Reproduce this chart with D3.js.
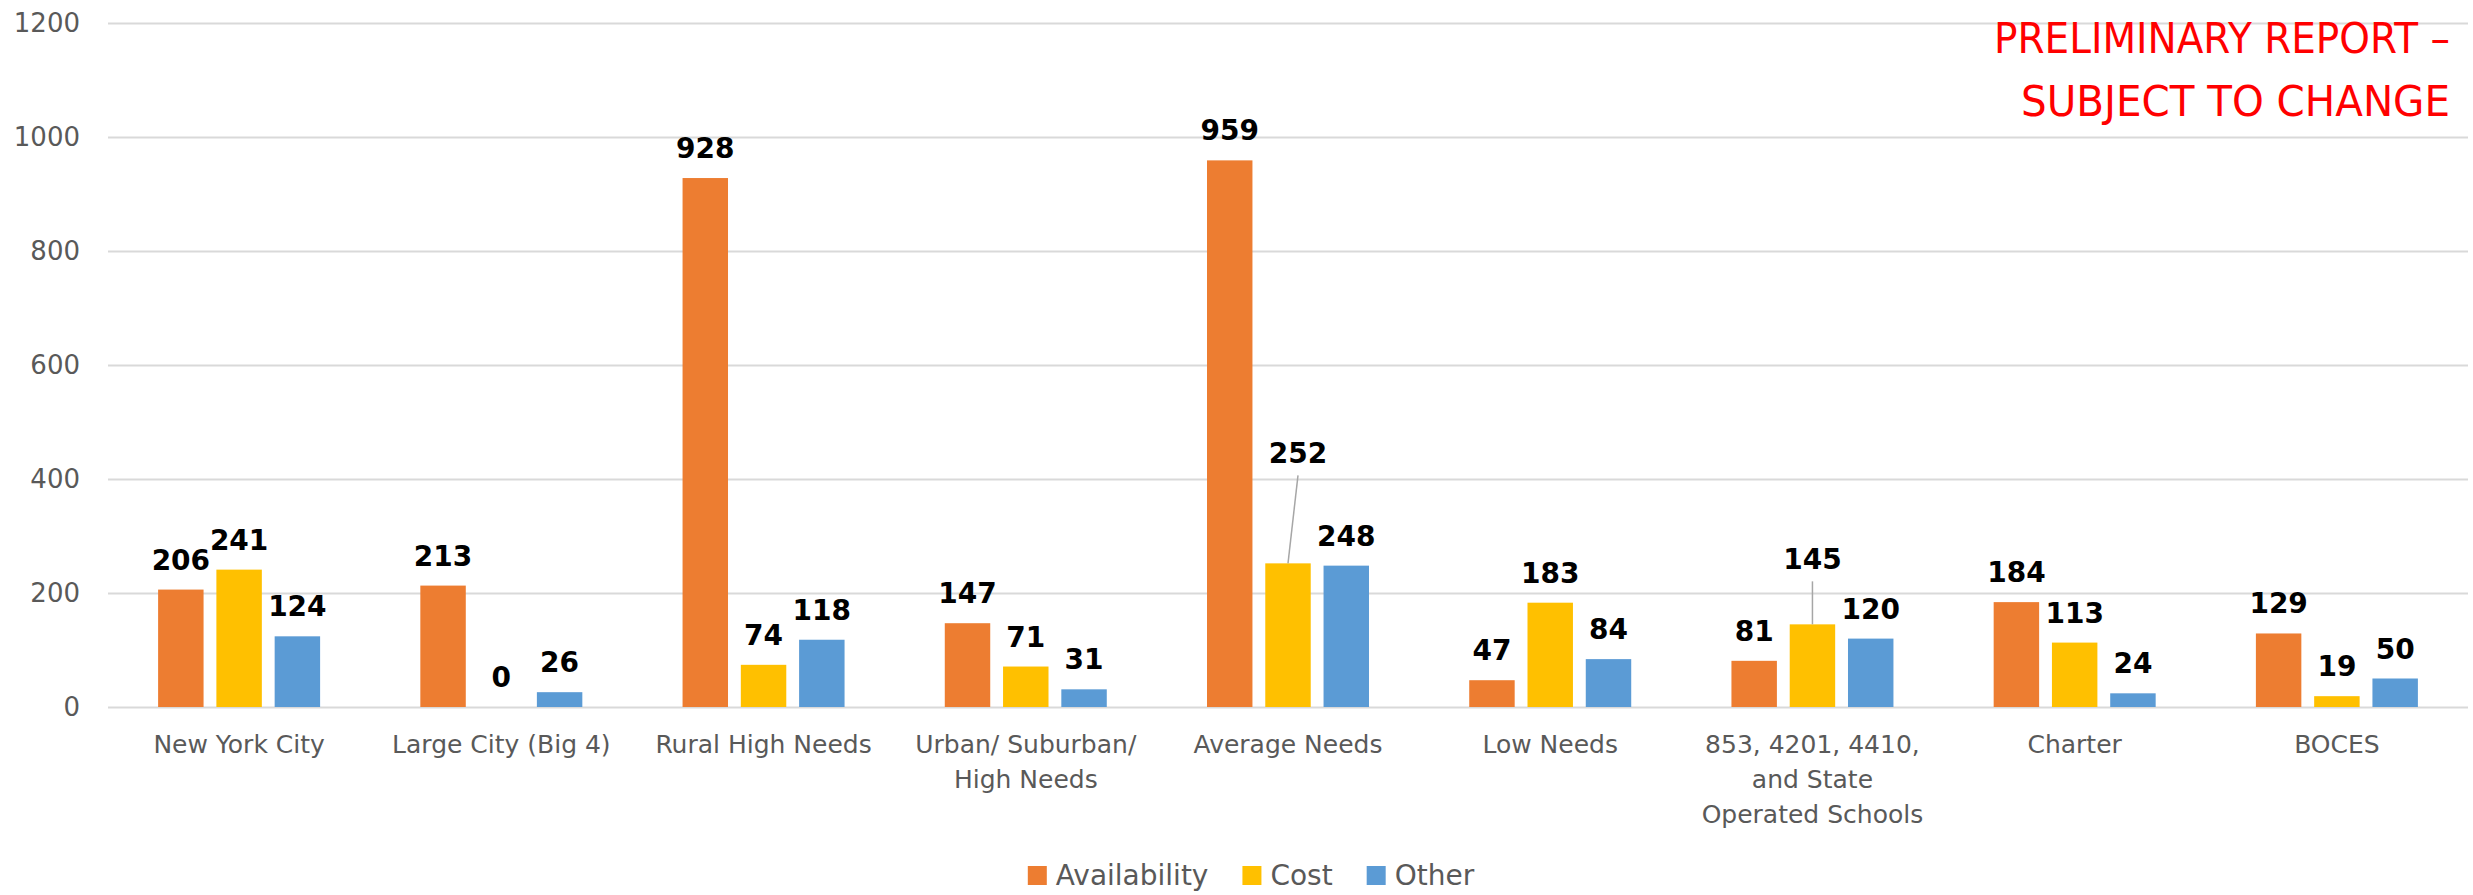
<!DOCTYPE html>
<html>
<head>
<meta charset="utf-8">
<script src="https://cdn.jsdelivr.net/npm/d3@7/dist/d3.min.js"></script>
<style>
  html, body { margin: 0; padding: 0; background: #ffffff; }
  svg { display: block; }
</style>
</head>
<body>
<svg id="chart" width="2473" height="895"></svg>
<script>
// Category groups (multi-line axis labels)
const categories = [
  "New York City",
  "Large City (Big 4)",
  "Rural High Needs",
  "Urban/ Suburban/ High Needs",
  "Average Needs",
  "Low Needs",
  "853, 4201, 4410, and State Operated Schools",
  "Charter",
  "BOCES"
];
const categoryLines = [
  ["New York City"],
  ["Large City (Big 4)"],
  ["Rural High Needs"],
  ["Urban/ Suburban/", "High Needs"],
  ["Average Needs"],
  ["Low Needs"],
  ["853, 4201, 4410,", "and State", "Operated Schools"],
  ["Charter"],
  ["BOCES"]
];

// Series
const seriesNames = ["Availability", "Cost", "Other"];
const availability = [206, 213, 928, 147, 959, 47, 81, 184, 129];
const cost         = [241, 0, 74, 71, 252, 183, 145, 113, 19];
const other        = [124, 26, 118, 31, 248, 84, 120, 24, 50];

// Value axis ticks
const yTicks = [0, 200, 400, 600, 800, 1000, 1200];

const colors = { Availability: "#ED7D31", Cost: "#FFC000", Other: "#5B9BD5" };

// Data labels pulled away from their bars, drawn with a leader line
const labelNudges = {
  "Average Needs|Cost": { dx: 10, dy: -80 },
  "853, 4201, 4410, and State Operated Schools|Cost": { dx: 0, dy: -35 }
};

const seriesValues = { Availability: availability, Cost: cost, Other: other };
const rows = categories.map((c, i) => ({
  category: c,
  lines: categoryLines[i],
  values: seriesNames.map(s => ({ series: s, value: seriesValues[s][i], category: c }))
}));

const svg = d3.select("#chart");
const plot = { left: 108, right: 2468, top: 23, bottom: 707 };

const x = d3.scaleBand().domain(categories).range([plot.left, plot.right]).paddingInner(0).paddingOuter(0);
const xInner = d3.scaleBand().domain(seriesNames).range([-81, 81]).paddingInner(0.22).paddingOuter(0);
const y = d3.scaleLinear().domain([0, 1200]).range([plot.bottom, plot.top]);

const axisFont = "'DejaVu Sans', sans-serif";
const textGray = "#595959";

// Horizontal gridlines with value labels
const yAxis = d3.axisLeft(y).tickValues(yTicks).tickSize(-(plot.right - plot.left)).tickPadding(28).tickFormat(d3.format("d"));
const gy = svg.append("g").attr("transform", `translate(${plot.left},0)`).call(yAxis);
gy.select(".domain").remove();
gy.selectAll(".tick line").attr("stroke", "#d9d9d9").attr("stroke-width", 2);
gy.selectAll(".tick text")
  .attr("fill", textGray)
  .style("font-family", axisFont)
  .style("font-size", "26px");

// Category axis labels
const gx = svg.append("g");
rows.forEach(r => {
  const cx = x(r.category) + x.bandwidth() / 2;
  const t = gx.append("text")
    .attr("x", cx)
    .attr("y", 753)
    .attr("text-anchor", "middle")
    .attr("fill", textGray)
    .style("font-family", axisFont)
    .style("font-size", "25px");
  r.lines.forEach((ln, k) => {
    t.append("tspan")
      .attr("x", cx)
      .attr("y", 753 + k * 35)
      .text(ln);
  });
});

// Bars
const groups = svg.append("g").selectAll("g.group")
  .data(rows).join("g")
  .attr("class", "group")
  .attr("transform", d => `translate(${x(d.category) + x.bandwidth() / 2},0)`);

groups.selectAll("rect")
  .data(d => d.values).join("rect")
  .attr("x", d => xInner(d.series))
  .attr("width", xInner.bandwidth())
  .attr("y", d => y(d.value))
  .attr("height", d => y(0) - y(d.value))
  .attr("fill", d => colors[d.series]);

const nudgeOf = d => labelNudges[d.category + "|" + d.series];

// Leader lines for nudged labels
groups.selectAll("line.leader")
  .data(d => d.values.filter(v => nudgeOf(v))).join("line")
  .attr("class", "leader")
  .attr("x1", d => xInner(d.series) + xInner.bandwidth() / 2 + nudgeOf(d).dx)
  .attr("y1", d => y(d.value) - 20 + nudgeOf(d).dy + 12)
  .attr("x2", d => xInner(d.series) + xInner.bandwidth() / 2)
  .attr("y2", d => y(d.value))
  .attr("stroke", "#a6a6a6")
  .attr("stroke-width", 1.5);

// Value labels
groups.selectAll("text.value")
  .data(d => d.values).join("text")
  .attr("class", "value")
  .attr("x", d => {
    const n = nudgeOf(d);
    return xInner(d.series) + xInner.bandwidth() / 2 + (n ? n.dx : 0);
  })
  .attr("y", d => {
    const n = nudgeOf(d);
    return y(d.value) - 20 + (n ? n.dy : 0);
  })
  .attr("text-anchor", "middle")
  .attr("fill", "#000000")
  .style("font-family", axisFont)
  .style("font-weight", "bold")
  .style("font-size", "28px")
  .text(d => d.value);

// Legend
const legend = svg.append("g");
let lx = 0;
seriesNames.forEach(s => {
  const item = legend.append("g").attr("transform", `translate(${lx},0)`);
  item.append("rect").attr("x", 0).attr("y", -19).attr("width", 19).attr("height", 19).attr("fill", colors[s]);
  const t = item.append("text")
    .attr("x", 28).attr("y", 0)
    .attr("fill", textGray)
    .style("font-family", axisFont)
    .style("font-size", "28px")
    .text(s);
  lx += 28 + t.node().getComputedTextLength() + 34;
});
const legendWidth = lx - 34;
legend.attr("transform", `translate(${1251 - legendWidth / 2},885)`);

// Status note, top right
const note = svg.append("g").attr("fill", "#FF0000")
  .style("font-family", axisFont).style("font-size", "42px");
note.append("text").attr("x", 2450).attr("y", 53).attr("text-anchor", "end")
  .attr("textLength", 456).attr("lengthAdjust", "spacingAndGlyphs").text("PRELIMINARY REPORT \u2013");
note.append("text").attr("x", 2450).attr("y", 116).attr("text-anchor", "end")
  .attr("textLength", 429).attr("lengthAdjust", "spacingAndGlyphs").text("SUBJECT TO CHANGE");
</script>
</body>
</html>
